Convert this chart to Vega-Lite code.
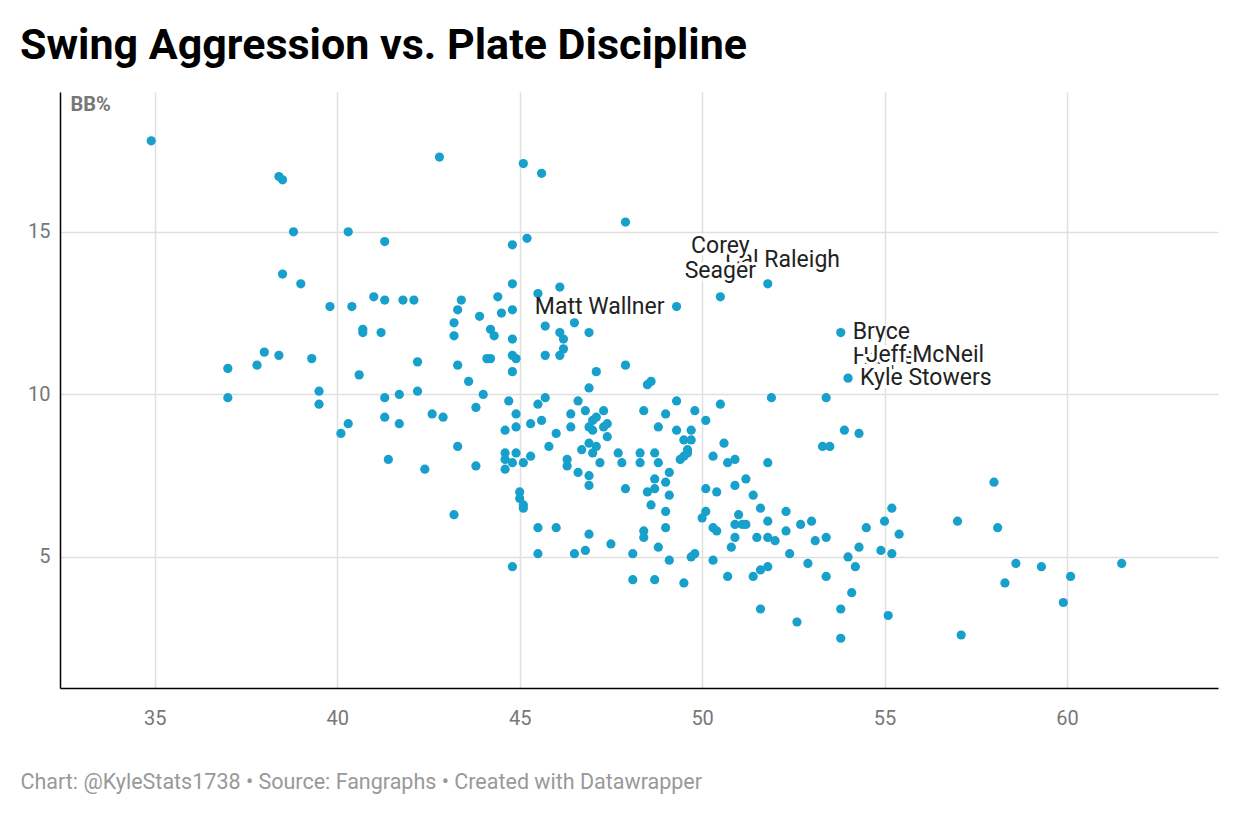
{
  "$schema": "https://vega.github.io/schema/vega-lite/v6.json",
  "autosize": "none",
  "width": 1158,
  "height": 596,
  "padding": {"left": 60, "top": 92, "right": 22, "bottom": 128},
  "background": "white",
  "config": {"font": "Roboto", "view": {"stroke": null}},
  "title": {"text": "Swing Aggression vs. Plate Discipline", "anchor": "start", "dx": 0, "offset": 24, "fontSize": 43, "fontWeight": "bold", "color": "#000", "font": "Roboto"},
  "datasets": {
    "players": [
      {"swing": 34.9, "bb": 17.8}, {"swing": 38.4, "bb": 16.7}, {"swing": 38.5, "bb": 16.6}, {"swing": 42.8, "bb": 17.3},
      {"swing": 45.1, "bb": 17.1}, {"swing": 45.6, "bb": 16.8}, {"swing": 47.9, "bb": 15.3}, {"swing": 38.8, "bb": 15.0},
      {"swing": 40.3, "bb": 15.0}, {"swing": 41.3, "bb": 14.7}, {"swing": 44.8, "bb": 14.6}, {"swing": 45.2, "bb": 14.8},
      {"swing": 38.5, "bb": 13.7}, {"swing": 39.0, "bb": 13.4}, {"swing": 44.8, "bb": 13.4}, {"swing": 46.1, "bb": 13.3},
      {"swing": 45.5, "bb": 13.1}, {"swing": 41.0, "bb": 13.0}, {"swing": 41.3, "bb": 12.9}, {"swing": 41.8, "bb": 12.9},
      {"swing": 42.1, "bb": 12.9}, {"swing": 43.4, "bb": 12.9}, {"swing": 44.4, "bb": 13.0}, {"swing": 39.8, "bb": 12.7},
      {"swing": 40.4, "bb": 12.7}, {"swing": 49.3, "bb": 12.7, "name": "Matt Wallner"}, {"swing": 50.5, "bb": 13.0, "name": "Corey Seager"},
      {"swing": 51.8, "bb": 13.4, "name": "Cal Raleigh"}, {"swing": 43.3, "bb": 12.6}, {"swing": 43.2, "bb": 12.2},
      {"swing": 43.9, "bb": 12.4}, {"swing": 44.5, "bb": 12.5}, {"swing": 44.8, "bb": 12.6}, {"swing": 40.7, "bb": 12.0},
      {"swing": 40.7, "bb": 11.9}, {"swing": 41.2, "bb": 11.9}, {"swing": 44.2, "bb": 12.0}, {"swing": 44.3, "bb": 11.8},
      {"swing": 44.8, "bb": 11.7}, {"swing": 45.7, "bb": 12.1}, {"swing": 46.1, "bb": 11.9}, {"swing": 46.5, "bb": 12.2},
      {"swing": 46.9, "bb": 11.9}, {"swing": 46.2, "bb": 11.7}, {"swing": 46.2, "bb": 11.4}, {"swing": 46.1, "bb": 11.2},
      {"swing": 45.7, "bb": 11.2}, {"swing": 44.1, "bb": 11.1}, {"swing": 44.2, "bb": 11.1}, {"swing": 44.8, "bb": 11.2},
      {"swing": 44.9, "bb": 11.1}, {"swing": 43.2, "bb": 11.8}, {"swing": 53.8, "bb": 11.9, "name": "Bryce Harper"},
      {"swing": 54.1, "bb": 11.2, "name": "Jeff McNeil"},
      {"swing": 37.0, "bb": 10.8}, {"swing": 38.0, "bb": 11.3}, {"swing": 38.4, "bb": 11.2}, {"swing": 37.8, "bb": 10.9},
      {"swing": 39.3, "bb": 11.1}, {"swing": 42.2, "bb": 11.0}, {"swing": 43.3, "bb": 10.9}, {"swing": 43.6, "bb": 10.4},
      {"swing": 40.6, "bb": 10.6}, {"swing": 44.8, "bb": 10.7}, {"swing": 47.1, "bb": 10.7}, {"swing": 47.9, "bb": 10.9},
      {"swing": 48.5, "bb": 10.3}, {"swing": 48.6, "bb": 10.4}, {"swing": 54.0, "bb": 10.5, "name": "Kyle Stowers"},
      {"swing": 37.0, "bb": 9.9}, {"swing": 39.5, "bb": 10.1}, {"swing": 39.5, "bb": 9.7}, {"swing": 40.1, "bb": 8.8},
      {"swing": 40.3, "bb": 9.1}, {"swing": 41.3, "bb": 9.9}, {"swing": 41.3, "bb": 9.3}, {"swing": 41.7, "bb": 10.0},
      {"swing": 41.7, "bb": 9.1}, {"swing": 42.2, "bb": 10.1}, {"swing": 41.4, "bb": 8.0}, {"swing": 42.6, "bb": 9.4},
      {"swing": 42.9, "bb": 9.3}, {"swing": 42.4, "bb": 7.7}, {"swing": 43.3, "bb": 8.4}, {"swing": 43.8, "bb": 7.8},
      {"swing": 43.2, "bb": 6.3}, {"swing": 44.0, "bb": 10.0}, {"swing": 43.8, "bb": 9.6}, {"swing": 44.7, "bb": 9.8},
      {"swing": 44.9, "bb": 9.4}, {"swing": 44.9, "bb": 9.0}, {"swing": 44.6, "bb": 8.9}, {"swing": 45.5, "bb": 9.7},
      {"swing": 45.7, "bb": 9.9}, {"swing": 45.3, "bb": 9.1}, {"swing": 45.6, "bb": 9.2}, {"swing": 46.0, "bb": 8.8},
      {"swing": 45.8, "bb": 8.4}, {"swing": 44.6, "bb": 8.2}, {"swing": 44.9, "bb": 8.2}, {"swing": 44.6, "bb": 8.0},
      {"swing": 44.8, "bb": 7.9}, {"swing": 45.1, "bb": 7.9}, {"swing": 45.3, "bb": 8.1}, {"swing": 44.6, "bb": 7.7},
      {"swing": 46.9, "bb": 10.2}, {"swing": 46.6, "bb": 9.8}, {"swing": 46.8, "bb": 9.5}, {"swing": 47.3, "bb": 9.5},
      {"swing": 46.4, "bb": 9.4}, {"swing": 46.4, "bb": 9.0}, {"swing": 47.0, "bb": 9.2}, {"swing": 47.1, "bb": 9.3},
      {"swing": 46.9, "bb": 9.0}, {"swing": 47.0, "bb": 8.9}, {"swing": 47.4, "bb": 9.1}, {"swing": 47.3, "bb": 9.0},
      {"swing": 47.4, "bb": 8.7}, {"swing": 46.9, "bb": 8.5}, {"swing": 47.1, "bb": 8.4}, {"swing": 47.0, "bb": 8.2},
      {"swing": 46.7, "bb": 8.3}, {"swing": 47.2, "bb": 7.9}, {"swing": 47.7, "bb": 8.2}, {"swing": 47.8, "bb": 7.9},
      {"swing": 46.3, "bb": 8.0}, {"swing": 46.3, "bb": 7.8}, {"swing": 46.6, "bb": 7.6}, {"swing": 46.9, "bb": 7.5},
      {"swing": 46.9, "bb": 7.2}, {"swing": 45.0, "bb": 7.0}, {"swing": 45.0, "bb": 6.8}, {"swing": 45.1, "bb": 6.6},
      {"swing": 45.1, "bb": 6.5}, {"swing": 45.5, "bb": 5.9}, {"swing": 46.0, "bb": 5.9}, {"swing": 46.9, "bb": 5.7},
      {"swing": 47.5, "bb": 5.4}, {"swing": 45.5, "bb": 5.1}, {"swing": 46.5, "bb": 5.1}, {"swing": 46.8, "bb": 5.2},
      {"swing": 44.8, "bb": 4.7}, {"swing": 48.4, "bb": 9.5}, {"swing": 49.3, "bb": 9.8}, {"swing": 49.0, "bb": 9.4},
      {"swing": 49.8, "bb": 9.5}, {"swing": 48.8, "bb": 9.0}, {"swing": 49.3, "bb": 8.9}, {"swing": 49.7, "bb": 8.9},
      {"swing": 50.1, "bb": 9.2}, {"swing": 50.5, "bb": 9.7}, {"swing": 49.5, "bb": 8.6}, {"swing": 49.7, "bb": 8.6},
      {"swing": 49.6, "bb": 8.3}, {"swing": 49.6, "bb": 8.2}, {"swing": 49.5, "bb": 8.1}, {"swing": 49.4, "bb": 8.0},
      {"swing": 48.3, "bb": 8.2}, {"swing": 48.7, "bb": 8.2}, {"swing": 48.3, "bb": 7.9}, {"swing": 48.8, "bb": 7.9},
      {"swing": 50.6, "bb": 8.5}, {"swing": 50.3, "bb": 8.1}, {"swing": 50.7, "bb": 7.9}, {"swing": 50.9, "bb": 8.0},
      {"swing": 49.1, "bb": 7.6}, {"swing": 48.7, "bb": 7.4}, {"swing": 49.0, "bb": 7.3}, {"swing": 51.2, "bb": 7.4},
      {"swing": 50.9, "bb": 7.2}, {"swing": 47.9, "bb": 7.1}, {"swing": 48.5, "bb": 7.0}, {"swing": 48.7, "bb": 7.1},
      {"swing": 49.1, "bb": 6.9}, {"swing": 50.1, "bb": 7.1}, {"swing": 50.4, "bb": 7.0}, {"swing": 48.6, "bb": 6.6},
      {"swing": 49.0, "bb": 6.4}, {"swing": 50.1, "bb": 6.4}, {"swing": 50.0, "bb": 6.2}, {"swing": 51.0, "bb": 6.3},
      {"swing": 50.9, "bb": 6.0}, {"swing": 51.1, "bb": 6.0}, {"swing": 51.2, "bb": 6.0}, {"swing": 50.3, "bb": 5.9},
      {"swing": 50.4, "bb": 5.8}, {"swing": 50.9, "bb": 5.6}, {"swing": 50.8, "bb": 5.3}, {"swing": 48.4, "bb": 5.8},
      {"swing": 48.4, "bb": 5.6}, {"swing": 49.0, "bb": 5.9}, {"swing": 48.8, "bb": 5.3}, {"swing": 48.1, "bb": 5.1},
      {"swing": 49.1, "bb": 4.9}, {"swing": 49.7, "bb": 5.0}, {"swing": 49.8, "bb": 5.1}, {"swing": 50.3, "bb": 4.9},
      {"swing": 48.1, "bb": 4.3}, {"swing": 48.7, "bb": 4.3}, {"swing": 49.5, "bb": 4.2}, {"swing": 50.7, "bb": 4.4},
      {"swing": 51.9, "bb": 9.9}, {"swing": 53.4, "bb": 9.9}, {"swing": 53.9, "bb": 8.9}, {"swing": 54.3, "bb": 8.8},
      {"swing": 53.3, "bb": 8.4}, {"swing": 53.5, "bb": 8.4}, {"swing": 51.8, "bb": 7.9}, {"swing": 51.4, "bb": 6.9},
      {"swing": 51.6, "bb": 6.5}, {"swing": 52.3, "bb": 6.4}, {"swing": 51.8, "bb": 6.1}, {"swing": 52.3, "bb": 5.8},
      {"swing": 51.5, "bb": 5.6}, {"swing": 51.8, "bb": 5.6}, {"swing": 52.0, "bb": 5.5}, {"swing": 52.7, "bb": 6.0},
      {"swing": 53.0, "bb": 6.1}, {"swing": 53.1, "bb": 5.5}, {"swing": 53.4, "bb": 5.6}, {"swing": 52.4, "bb": 5.1},
      {"swing": 51.8, "bb": 4.7}, {"swing": 51.6, "bb": 4.6}, {"swing": 52.9, "bb": 4.8}, {"swing": 51.4, "bb": 4.4},
      {"swing": 51.6, "bb": 3.4}, {"swing": 52.6, "bb": 3.0}, {"swing": 53.4, "bb": 4.4}, {"swing": 54.0, "bb": 5.0},
      {"swing": 54.2, "bb": 4.7}, {"swing": 54.3, "bb": 5.3}, {"swing": 54.5, "bb": 5.9}, {"swing": 55.0, "bb": 6.1},
      {"swing": 55.2, "bb": 6.5}, {"swing": 55.4, "bb": 5.7}, {"swing": 54.9, "bb": 5.2}, {"swing": 55.2, "bb": 5.1},
      {"swing": 54.1, "bb": 3.9}, {"swing": 53.8, "bb": 3.4}, {"swing": 53.8, "bb": 2.5}, {"swing": 55.1, "bb": 3.2},
      {"swing": 57.0, "bb": 6.1}, {"swing": 58.0, "bb": 7.3}, {"swing": 58.1, "bb": 5.9}, {"swing": 58.6, "bb": 4.8},
      {"swing": 58.3, "bb": 4.2}, {"swing": 59.3, "bb": 4.7}, {"swing": 60.1, "bb": 4.4}, {"swing": 59.9, "bb": 3.6},
      {"swing": 61.5, "bb": 4.8}, {"swing": 57.1, "bb": 2.6}
    ]
  },
  "data": {"name": "players"},
  "encoding": {
    "x": {"field": "swing", "type": "quantitative", "scale": {"domain": [32.4, 64.14], "nice": false, "zero": false},
      "axis": {"values": [35, 40, 45, 50, 55, 60], "grid": true, "gridColor": "#e0e0e0", "gridWidth": 1.5, "domainColor": "#000", "domainWidth": 1.5, "ticks": false, "labelPadding": 20, "labelFontSize": 20, "labelColor": "#777", "labelFont": "Roboto",
        "title": "Chart: @KyleStats1738 • Source: Fangraphs • Created with Datawrapper", "titleAnchor": "start", "titleAlign": "left", "titleX": -40, "titleY": 83, "titleFontSize": 21.5, "titleFontWeight": "normal", "titleColor": "#999", "titleFont": "Roboto"}},
    "y": {"field": "bb", "type": "quantitative", "scale": {"domain": [0.97, 19.3], "nice": false, "zero": false},
      "axis": {"values": [5, 10, 15], "grid": true, "gridColor": "#e0e0e0", "gridWidth": 1.5, "domainColor": "#000", "domainWidth": 1.5, "ticks": false, "labelPadding": 10, "labelFontSize": 20, "labelColor": "#777", "labelFont": "Roboto",
        "title": "BB%", "titleAngle": 0, "titleAlign": "left", "titleBaseline": "middle", "titleX": 10, "titleY": 12, "titleFontSize": 20, "titleFontWeight": "bold", "titleColor": "#777", "titleFont": "Roboto"}}
  },
  "layer": [
    {"transform": [{"filter": "datum.name != 'Jeff McNeil'"}], "mark": {"type": "circle", "size": 85, "color": "#18a0cc", "opacity": 1}},
    {"transform": [{"filter": "datum.name == 'Matt Wallner'"}],
      "mark": {"type": "text", "align": "right", "dx": -12, "fontSize": 23, "font": "Roboto", "color": "#222"}, "encoding": {"text": {"field": "name"}}},
    {"transform": [{"filter": "datum.name == 'Cal Raleigh'"}],
      "mark": {"type": "text", "align": "center", "baseline": "bottom", "dx": 15, "dy": -12, "fontSize": 23, "font": "Roboto", "color": "#222"}, "encoding": {"text": {"field": "name"}}},
    {"transform": [{"filter": "datum.name == 'Corey Seager'"}],
      "mark": {"type": "text", "align": "center", "baseline": "bottom", "dy": -39, "fontSize": 23, "font": "Roboto", "color": "white", "stroke": "white", "strokeWidth": 6, "lineBreak": " ", "lineHeight": 25}, "encoding": {"text": {"field": "name"}}},
    {"transform": [{"filter": "datum.name == 'Corey Seager'"}],
      "mark": {"type": "text", "align": "center", "baseline": "bottom", "dy": -39, "fontSize": 23, "font": "Roboto", "color": "#222", "lineBreak": " ", "lineHeight": 25}, "encoding": {"text": {"field": "name"}}},
    {"transform": [{"filter": "datum.name == 'Bryce Harper'"}],
      "mark": {"type": "text", "align": "left", "baseline": "top", "dx": 12, "dy": -12, "fontSize": 23, "font": "Roboto", "color": "#222", "lineBreak": " ", "lineHeight": 25}, "encoding": {"text": {"field": "name"}}},
    {"transform": [{"filter": "datum.name == 'Jeff McNeil'"}],
      "mark": {"type": "text", "align": "left", "dx": 14, "fontSize": 23, "font": "Roboto", "color": "white", "stroke": "white", "strokeWidth": 6}, "encoding": {"text": {"field": "name"}}},
    {"transform": [{"filter": "datum.name == 'Jeff McNeil'"}],
      "mark": {"type": "text", "align": "left", "dx": 14, "fontSize": 23, "font": "Roboto", "color": "#222"}, "encoding": {"text": {"field": "name"}}},
    {"transform": [{"filter": "datum.name == 'Kyle Stowers'"}],
      "mark": {"type": "text", "align": "left", "dx": 12, "fontSize": 23, "font": "Roboto", "color": "white", "stroke": "white", "strokeWidth": 6}, "encoding": {"text": {"field": "name"}}},
    {"transform": [{"filter": "datum.name == 'Kyle Stowers'"}],
      "mark": {"type": "text", "align": "left", "dx": 12, "fontSize": 23, "font": "Roboto", "color": "#222"}, "encoding": {"text": {"field": "name"}}},
    {"data": {"values": [{"t": "Swing%"}]},
      "mark": {"type": "text", "align": "right", "baseline": "bottom", "fontSize": 20, "fontWeight": "bold", "color": "#777", "font": "Roboto", "dy": -10},
      "encoding": {"x": {"datum": 64.14}, "y": {"datum": 0.97}, "text": {"field": "t"}}}
  ]
}
